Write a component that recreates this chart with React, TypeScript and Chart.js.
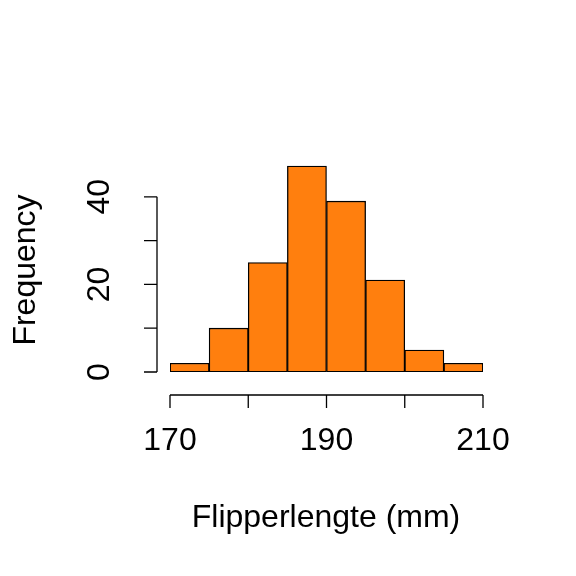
import { useEffect, useRef } from 'react'
import { Chart, registerables } from 'chart.js'

Chart.register(...registerables)

const binStarts = [170, 175, 180, 185, 190, 195, 200, 205]
const binWidth = 5
const counts = [2, 10, 25, 47, 39, 21, 5, 2]
const yTicks = [0, 10, 20, 30, 40]
const yLabels = [0, 20, 40]
const xTicks = [170, 180, 190, 200, 210]
const xLabels = [170, 190, 210]

const FONT = '"Liberation Sans", Arial, sans-serif'

const rAxes = {
  id: 'rAxes',
  afterDraw(chart: Chart) {
    const { ctx } = chart
    const xs = chart.scales.x
    const ys = chart.scales.y
    ctx.save()
    ctx.strokeStyle = '#000'
    ctx.fillStyle = '#000'
    ctx.lineWidth = 1.3

    // y axis
    const ax = 157
    ctx.beginPath()
    ctx.moveTo(ax, ys.getPixelForValue(yTicks[0]))
    ctx.lineTo(ax, ys.getPixelForValue(yTicks[yTicks.length - 1]))
    yTicks.forEach(t => {
      const py = ys.getPixelForValue(t)
      ctx.moveTo(ax, py)
      ctx.lineTo(ax - 13, py)
    })
    ctx.stroke()
    ctx.font = `32px ${FONT}`
    ctx.textAlign = 'center'
    ctx.textBaseline = 'middle'
    yLabels.forEach(t => {
      ctx.save()
      ctx.translate(100, ys.getPixelForValue(t))
      ctx.rotate(-Math.PI / 2)
      ctx.fillText(String(t), 0, 0)
      ctx.restore()
    })

    // x axis
    const ay = 395
    ctx.beginPath()
    ctx.moveTo(xs.getPixelForValue(xTicks[0]), ay)
    ctx.lineTo(xs.getPixelForValue(xTicks[xTicks.length - 1]), ay)
    xTicks.forEach(t => {
      const px = xs.getPixelForValue(t)
      ctx.moveTo(px, ay)
      ctx.lineTo(px, ay + 13)
    })
    ctx.stroke()
    xLabels.forEach(t => ctx.fillText(String(t), xs.getPixelForValue(t), 441))

    // titles
    ctx.fillText('Flipperlengte (mm)', 326, 518)
    ctx.save()
    ctx.translate(26, 270)
    ctx.rotate(-Math.PI / 2)
    ctx.fillText('Frequency', 0, 0)
    ctx.restore()
    ctx.restore()
  },
}

export default function App() {
  const ref = useRef<HTMLCanvasElement>(null)

  useEffect(() => {
    document.body.style.margin = '0'
    if (!ref.current) return
    const chart = new Chart(ref.current, {
      type: 'bar',
      data: {
        datasets: [{
          data: binStarts.map((s, i) => ({ x: s + binWidth / 2, y: counts[i] })),
          backgroundColor: '#ff7f0e',
          borderColor: '#000',
          borderWidth: 1.3,
          borderSkipped: false,
          barPercentage: 1,
          categoryPercentage: 1,
        }],
      },
      options: {
        animation: false,
        responsive: false,
        layout: { padding: { left: 170, right: 93, top: 153, bottom: 204 } },
        scales: {
          x: { type: 'linear', min: 170, max: 210, offset: false, display: false },
          y: { min: 0, max: 50, display: false },
        },
        plugins: { legend: { display: false }, tooltip: { enabled: false } },
      },
      plugins: [rAxes],
    })
    return () => { chart.destroy() }
  }, [])

  return <canvas ref={ref} width={576} height={576} style={{ display: 'block' }} />
}
